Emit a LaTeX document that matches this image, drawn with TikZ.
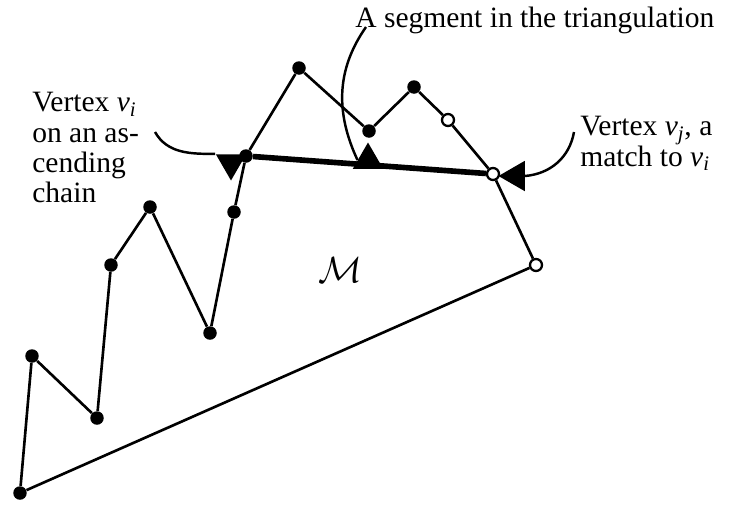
\documentclass[tikz,border=0pt]{standalone}
\usepackage{fontspec}
\setmainfont{Liberation Serif}
\usetikzlibrary{shapes.geometric, arrows.meta, positioning, calc}

\begin{document}
\begin{tikzpicture}[x=0.02cm, y=-0.02cm,
  dot/.style={circle, fill=black, inner sep=0pt, minimum size=0.27cm},
  odot/.style={circle, draw=black, fill=white, line width=1.3pt, inner sep=0pt, minimum size=0.24cm},
  tri/.style={regular polygon, regular polygon sides=3, fill=black, inner sep=0pt, minimum size=0.7cm},
  lbl/.style={font=\fontsize{16.8}{17.3}\selectfont, align=left, inner sep=0pt},
  edge/.style={line width=1.5pt},
  seg/.style={line width=3.2pt},
  lead/.style={line width=1.4pt}]
  \useasboundingbox (0,0) rectangle (733,504);
  \node[dot](p1) at (20,493){};
  \node[dot](p2) at (32,356){};
  \node[dot](p3) at (97,418){};
  \node[dot](p4) at (111,265){};
  \node[dot](p5) at (150,207){};
  \node[dot](p6) at (210,333){};
  \node[dot](p7) at (234,212){};
  \node[dot](vi) at (246,156){};
  \node[dot](p9) at (299,68){};
  \node[dot](p10) at (369,131){};
  \node[dot](p11) at (414,87){};
  \node[odot](p12) at (448,120){};
  \node[odot](vj) at (493,174){};
  \node[odot](p14) at (536,265){};
  \draw[edge](p1)--(p2)--(p3)--(p4)--(p5)--(p6)--(p7)--(vi)--(p9)--(p10)--(p11)--(p12)--(vj)--(p14)--(p1);
  \draw[seg](vi)--(vj);
  \node[tri, shape border rotate=180](tl) at (231,163){};
  \node[tri](tm) at (368,160){};
  \node[tri, shape border rotate=90](tr) at (516,176){};
  \node[lbl, anchor=north west](txl) at (32,92){Vertex \textit{v}\textsubscript{\textit{i}}\\on an as-\\cending\\chain};
  \node[lbl, anchor=north west](txr) at (580,116){Vertex \textit{v}\textsubscript{\textit{j}}, a\\match to \textit{v}\textsubscript{\textit{i}}};
  \node[lbl, anchor=base west](txt) at (355,27){A segment in the triangulation};
  \node[font=\fontsize{22}{24}\selectfont](m) at (340,270){$\mathcal{M}$};
  \coordinate (al) at (155,132);
  \coordinate (at) at (366,27);
  \coordinate (ar) at (574,132);
  \draw[lead](al) to[out=-60, in=180] (tl.corner 3);
  \draw[lead](at) to[out=235, in=115] (tm.west);
  \draw[lead](ar) to[out=-100, in=5] (tr.east);
\end{tikzpicture}
\end{document}
